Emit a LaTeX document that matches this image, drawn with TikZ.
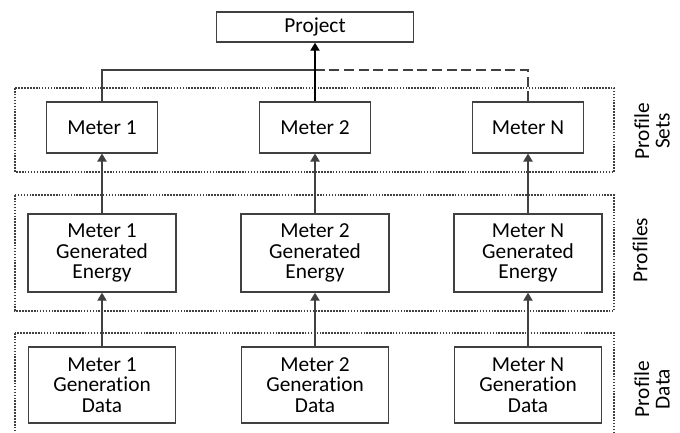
\documentclass[tikz,border=0pt]{standalone}
\usepackage{fontspec}
\setmainfont{Carlito}[Ligatures=NoCommon]
\usepackage{tikz}
\usetikzlibrary{arrows.meta,positioning}
\definecolor{edge}{HTML}{404040}
\tikzset{
  box/.style    = {draw=edge, line width=1.1pt, fill=white, inner sep=0pt, align=center,
                   font=\fontsize{16}{15.5}\selectfont},
  meterbox/.style = {box, minimum width=83pt, minimum height=38pt},
  energybox/.style = {box, minimum width=111pt, minimum height=58.5pt},
  databox/.style = {box, minimum width=110pt, minimum height=57pt},
  grp/.style    = {draw=edge, line width=0.8pt, dash pattern=on 1.2pt off 1pt},
  wire/.style   = {draw=edge, line width=1pt},
  vec/.style    = {wire, -{Triangle[length=6pt,width=7pt]}},
  side/.style   = {rotate=90, align=center, font=\fontsize{16}{15.5}\selectfont},
}
\begin{document}
\begin{tikzpicture}[x=0.75pt,y=-0.75pt]
  \useasboundingbox (0,0) rectangle (680,432);
  % layer frames
  \draw[grp] (15,88) rectangle (614,172);
  \draw[grp] (15,195) rectangle (614,311);
  \draw[grp] (15,333) rectangle (614,440);
  % boxes
  \node[box, minimum width=148pt, minimum height=22.5pt] (project) at (315,27) {Project};
  \node[meterbox] (m1) at (102,127.5) {Meter 1};
  \node[meterbox] (m2) at (315,127.5) {Meter 2};
  \node[meterbox] (mN) at (528,127.5) {Meter N};
  \node[energybox] (e1) at (102,253) {Meter 1\\Generated\\Energy};
  \node[energybox] (e2) at (315,253) {Meter 2\\Generated\\Energy};
  \node[energybox] (eN) at (528,253) {Meter N\\Generated\\Energy};
  \node[databox] (d1) at (102,385) {Meter 1\\Generation\\Data};
  \node[databox] (d2) at (315,385) {Meter 2\\Generation\\Data};
  \node[databox] (dN) at (528,385) {Meter N\\Generation\\Data};
  % side labels
  \node[side] (lsets) at (652,131) {Profile\\Sets};
  \node[side] (lprof) at (640,250) {Profiles};
  \node[side] (ldata) at (652,389) {Profile\\Data};
  % connectors
  \coordinate (join) at (315,70);
  \foreach \i in {1,2,N} {
    \draw[vec] (d\i) -- (e\i);
    \draw[vec] (e\i) -- (m\i);
  }
  \draw[wire] (m1.north) |- (join);
  \draw[wire, dash pattern=on 7.5pt off 3.5pt] (mN.north) |- (join);
  \draw[line width=1pt, -{Triangle[length=6pt,width=7pt]}] (m2.north) -- (project.south);
\end{tikzpicture}
\end{document}
